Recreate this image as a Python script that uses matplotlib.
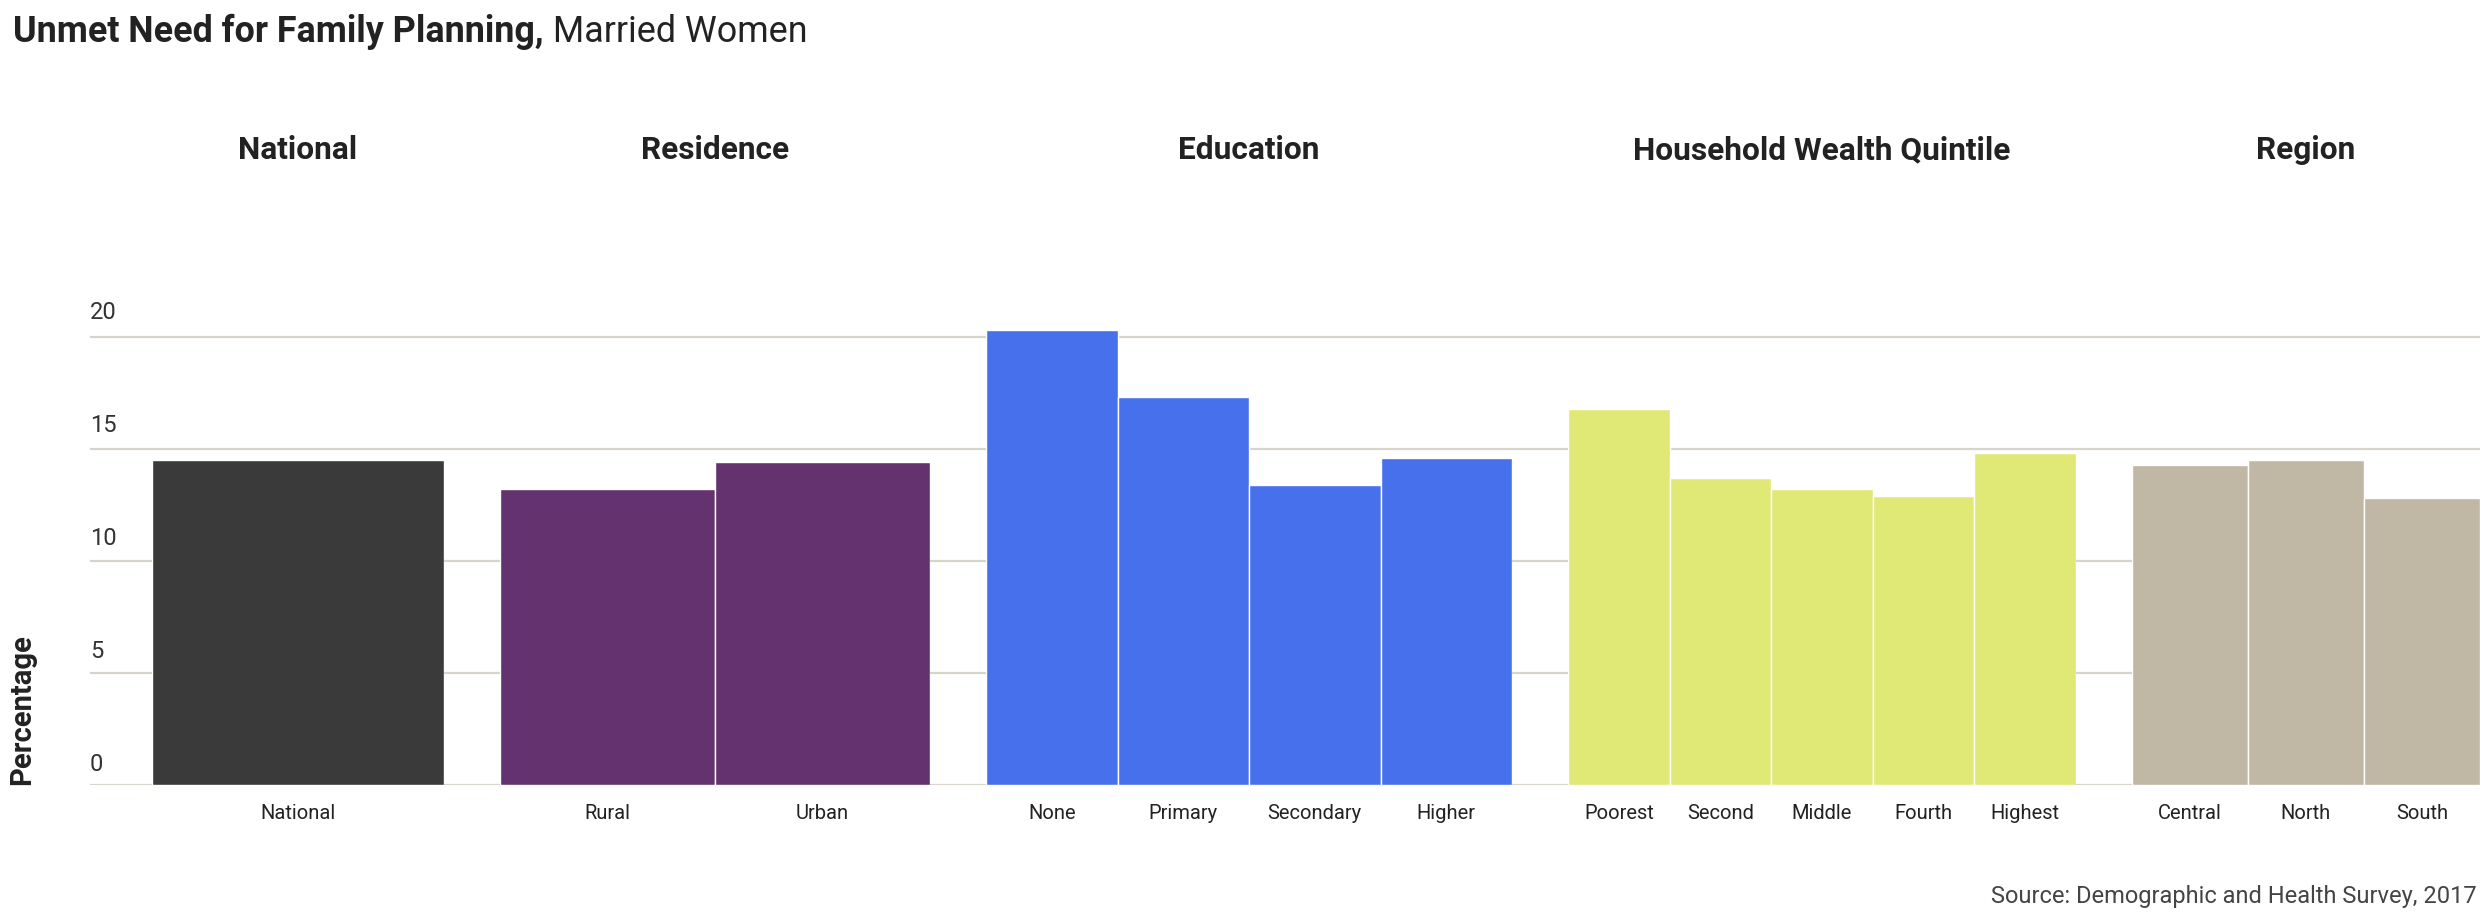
import matplotlib
matplotlib.use("Agg")
import matplotlib.pyplot as plt

# data
groups = ["National", "Residence", "Education", "Household Wealth Quintile", "Region"]
national_labels = ["National"]
national_vals = [14.5]
residence_labels = ["Rural", "Urban"]
residence_vals = [13.2, 14.4]
education_labels = ["None", "Primary", "Secondary", "Higher"]
education_vals = [20.3, 17.3, 13.4, 14.6]
wealth_labels = ["Poorest", "Second", "Middle", "Fourth", "Highest"]
wealth_vals = [16.8, 13.7, 13.2, 12.9, 14.8]
region_labels = ["Central", "North", "South"]
region_vals = [14.3, 14.5, 12.8]
y_ticks = [0, 5, 10, 15, 20]

labels = [national_labels, residence_labels, education_labels, wealth_labels, region_labels]
values = [national_vals, residence_vals, education_vals, wealth_vals, region_vals]
colors = ["#3a3a3a", "#64326e", "#4771ec", "#e0e876", "#c0b8a5"]

plt.rcParams['font.family'] = ['Roboto', 'DejaVu Sans']

W, H = 2480, 915
fig = plt.figure(figsize=(W / 100, H / 100), dpi=100)

ymax = 21.5
px_per_unit = 22.4
base_y = 785
ax_bottom = 1 - base_y / H
ax_height = ymax * px_per_unit / H

# background axes carrying the grid and y labels
bg = fig.add_axes([90 / W, ax_bottom, 1 - 90 / W, ax_height])
bg.set_xlim(0, 1)
bg.set_ylim(0, ymax)
for v in y_ticks:
    bg.axhline(v, color="#d9d4ca", lw=1.6, zorder=0)
    # labels sit a little above their grid line, spreading out slightly upward
    bg.annotate(str(v), xy=(0, v), xycoords=bg.get_yaxis_transform(),
                xytext=(0, 6.5 + v * 0.15), textcoords="offset points",
                ha="left", va="bottom", fontsize=17, color="#333333")
bg.axis("off")

# one panel per group
widths = [292, 430, 526, 508, 348]
gs = fig.add_gridspec(1, 5, width_ratios=widths, left=152 / W, right=1.0,
                      bottom=ax_bottom, top=ax_bottom + ax_height,
                      wspace=56 / (sum(widths) / 5))

for i, g in enumerate(groups):
    ax = fig.add_subplot(gs[0, i])
    ax.patch.set_alpha(0)
    n = len(values[i])
    ax.bar(range(n), values[i], width=1.0, color=colors[i],
           edgecolor="white", linewidth=1.0)
    ax.set_xlim(-0.5, n - 0.5)
    ax.set_ylim(0, ymax)
    ax.set_xticks(range(n))
    ax.set_xticklabels(labels[i], fontsize=14.5, color="#222222")
    ax.tick_params(axis="x", length=0, pad=13.5)
    ax.set_yticks([])
    for s in ax.spines.values():
        s.set_visible(False)
    pos = ax.get_position()
    fig.text((pos.x0 + pos.x1) / 2, 1 - 150 / H, g, ha="center", va="center",
             fontsize=22.8, fontweight="bold", color="#222222")

# y label
fig.text(22 / W, 1 - base_y / H, "Percentage", rotation=90, ha="center",
         va="bottom", fontsize=21, fontweight="bold", color="#222222")

# title: bold part then regular part
t1 = fig.text(13 / W, 1 - 42 / H, "Unmet Need for Family Planning,",
              fontsize=25.8, fontweight="bold", color="#222222", va="baseline")
r = fig.canvas.get_renderer()
bb = t1.get_window_extent(renderer=r)
fig.text(bb.x1 / W, 1 - 42 / H, " Married Women", fontsize=25.8,
         color="#222222", va="baseline")

fig.text(2477 / W, 1 - 897 / H, "Source: Demographic and Health Survey, 2017",
         ha="right", va="center", fontsize=17, color="#444444")

fig.savefig("out.png", dpi=100)
